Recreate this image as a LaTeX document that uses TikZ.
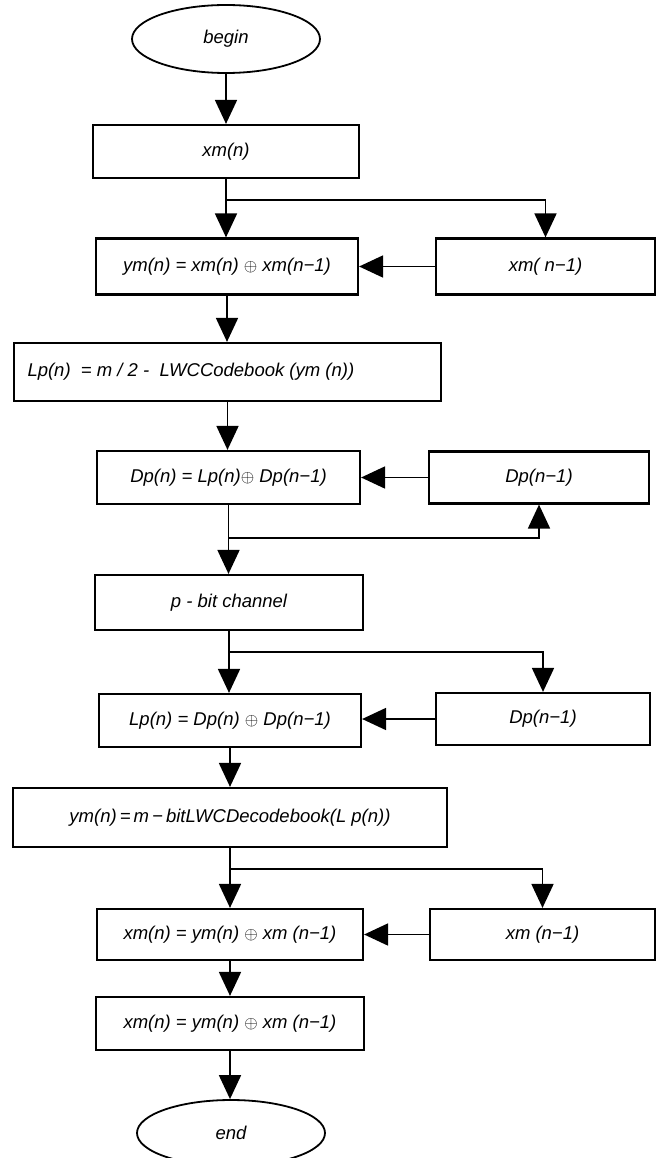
\documentclass[tikz,border=0pt]{standalone}
\usepackage{fontspec}
\setmainfont{Liberation Sans}
\usetikzlibrary{arrows.meta,shapes.geometric}
\begin{document}
\begin{tikzpicture}[x=1pt,y=-1pt,
  box/.style={draw,line width=2.2pt,rectangle,inner sep=0pt,font=\fontsize{18.5}{22}\selectfont\itshape},
  oval/.style={draw,line width=1.8pt,ellipse,inner sep=0pt,font=\fontsize{18.5}{22}\selectfont\itshape},
  arr/.style={line width=1.8pt,-{Triangle[width=22pt,length=24pt]}},
  ln/.style={line width=1.8pt}]
\path[use as bounding box] (0,0) rectangle (656,1158);
\node[oval,minimum width=188pt,minimum height=68pt] (begin) at (226,39) {begin};
\node[box,minimum width=266pt,minimum height=53pt] (xm) at (226,151.5) {xm(n)};
\node[box,minimum width=262pt,minimum height=56pt] (ym) at (227,266.5) {ym(n) = xm(n) $\oplus$ xm(n−1)};
\node[box,minimum width=219pt,minimum height=56pt] (xm1) at (545.5,266.5) {xm( n−1)};
\node[box,minimum width=427pt,minimum height=58pt] (lp) at (227.5,372) {\makebox[400pt][l]{\raisebox{-4pt}{Lp(n)\ \ = m / 2 -\ \ LWCCodebook (ym (n))}}};
\node[box,minimum width=263pt,minimum height=53pt] (dp) at (228.5,477.5) {Dp(n) = Lp(n)$\oplus$ Dp(n−1)};
\node[box,minimum width=220pt,minimum height=52pt] (dp1) at (539,477.5) {Dp(n−1)};
\node[box,minimum width=268pt,minimum height=55pt] (pbit) at (229,602.5) {p - bit channel};
\node[box,minimum width=262pt,minimum height=53pt] (lpd) at (230,720.5) {Lp(n) = Dp(n) $\oplus$ Dp(n−1)};
\node[box,minimum width=214pt,minimum height=52pt] (dp2) at (543,719) {Dp(n−1)};
\node[box,minimum width=434pt,minimum height=59pt] (dec) at (230,817.5) {ym(n)\,=\,m\,−\,bitLWCDecodebook(L p(n))};
\node[box,minimum width=266pt,minimum height=51pt] (xmy) at (230,934.5) {xm(n) = ym(n) $\oplus$ xm (n−1)};
\node[box,minimum width=225pt,minimum height=51pt] (xm2) at (542.5,934.5) {xm (n−1)};
\node[box,minimum width=268pt,minimum height=53pt] (xmy2) at (230,1023.5) {xm(n) = ym(n) $\oplus$ xm (n−1)};
\node[oval,minimum width=188pt,minimum height=66pt] (end) at (231,1133) {end};
% connectors
\draw[arr] (begin.south) -- (begin.south |- xm.north);
\path (xm.south) ++(0,21) coordinate (j1);
\draw[arr] (xm.south) -- (xm.south |- ym.north);
\draw[arr] (j1) -| (xm1.north);
\draw[arr] (xm1.west) -- (ym.east);
\draw[arr] (ym.south) -- (ym.south |- lp.north);
\draw[arr] (lp.south) -- (lp.south |- dp.north);
\draw[arr] (dp1.west) -- (dp.east);
\path (dp.south) ++(0,33) coordinate (j2);
\draw[arr] (dp.south) -- (dp.south |- pbit.north);
\draw[arr] (j2) -| (dp1.south);
\path (pbit.south) ++(0,21) coordinate (j3);
\draw[arr] (pbit.south) -- (pbit.south |- lpd.north);
\draw[arr] (j3) -| (dp2.north);
\draw[arr] (dp2.west) -- (dp2.west -| lpd.east);
\draw[arr] (lpd.south) -- (lpd.south |- dec.north);
\path (dec.south) ++(0,21) coordinate (j4);
\draw[arr] (dec.south) -- (dec.south |- xmy.north);
\draw[arr] (j4) -| (xm2.north);
\draw[arr] (xm2.west) -- (xmy.east);
\draw[arr] (xmy.south) -- (xmy.south |- xmy2.north);
\draw[arr] (xmy2.south) -- (xmy2.south |- end.north);
\end{tikzpicture}
\end{document}
